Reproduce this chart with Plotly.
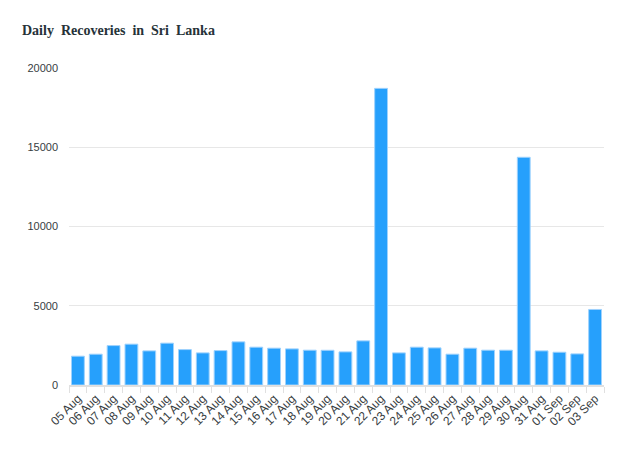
import plotly.graph_objects as go

dates = ["05 Aug", "06 Aug", "07 Aug", "08 Aug", "09 Aug", "10 Aug", "11 Aug", "12 Aug",
         "13 Aug", "14 Aug", "15 Aug", "16 Aug", "17 Aug", "18 Aug", "19 Aug", "20 Aug",
         "21 Aug", "22 Aug", "23 Aug", "24 Aug", "25 Aug", "26 Aug", "27 Aug", "28 Aug",
         "29 Aug", "30 Aug", "31 Aug", "01 Sep", "02 Sep", "03 Sep"]
recoveries = [1817, 1943, 2487, 2576, 2152, 2639, 2234, 2025,
              2171, 2722, 2386, 2323, 2278, 2196, 2190, 2089,
              2785, 18715, 2025, 2386, 2342, 1943, 2323, 2196,
              2196, 14367, 2152, 2068, 1962, 4766]
y_ticks = [0, 5000, 10000, 15000, 20000]

fig = go.Figure(go.Bar(
    x=dates, y=recoveries,
    marker=dict(color="#26a0fc", line=dict(color="#9fd2fd", width=1)),
    hoverinfo="x+y",
))

fig.update_layout(
    width=620, height=452,
    margin=dict(l=69, r=16, t=68, b=67),
    paper_bgcolor="white", plot_bgcolor="white",
    bargap=0.28,
    showlegend=False,
    title=dict(text="<b>Daily  Recoveries  in  Sri  Lanka</b>",
               font=dict(family="Liberation Serif", size=14, color="#263238"),
               x=22/620, xanchor="left", xref="paper", y=1-30/452, yanchor="middle"),
    font=dict(family="Liberation Sans, Arial", size=11, color="#373d3f"),
)
fig.update_layout(title_xref="container", title_yref="container")

fig.update_xaxes(
    type="category", tickangle=-45, tickson="boundaries",
    ticks="outside", ticklen=6, tickcolor="#e0e0e0", tickwidth=1,
    showline=True, linecolor="#e0e0e0", linewidth=2,
    showgrid=False, tickfont=dict(size=12, color="#373d3f"),
)
fig.update_yaxes(
    range=[0, 20000], tickvals=y_ticks, ticktext=[str(v) for v in y_ticks],
    showgrid=True, gridcolor="#e7e7e7", gridwidth=1,
    zeroline=False, showline=False, ticks="",
    ticklabelstandoff=10, tickfont=dict(size=11, color="#373d3f"),
)

fig.write_html("out.html")
